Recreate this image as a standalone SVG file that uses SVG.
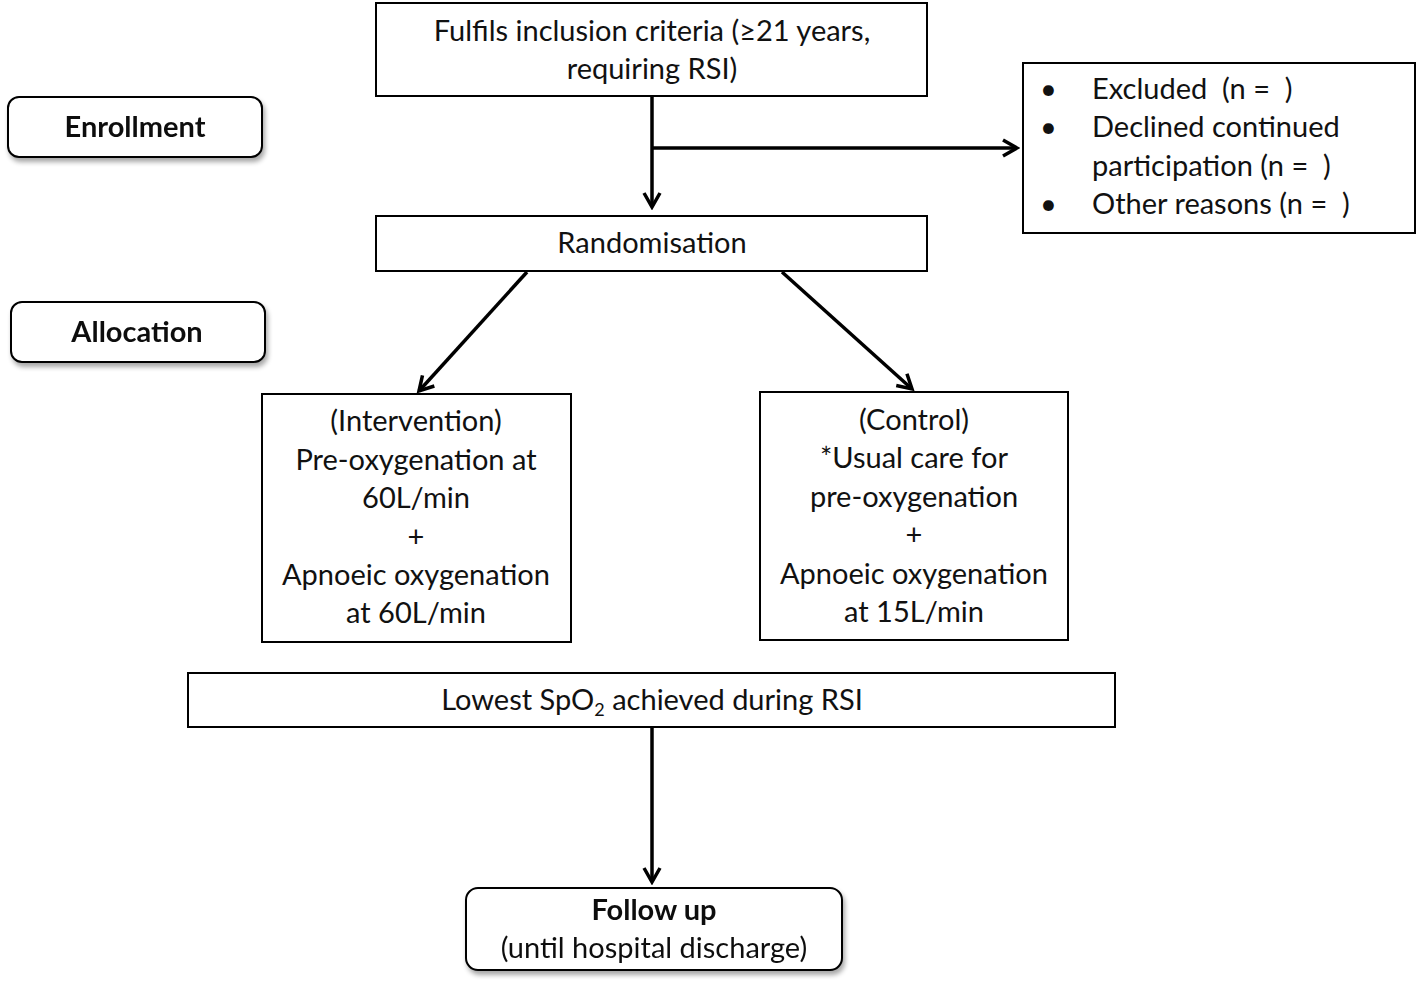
<svg xmlns="http://www.w3.org/2000/svg" width="1418" height="983" viewBox="0 0 1418 983">
<defs>
<style>
.box{fill:#fff;stroke:#000;stroke-width:2}
.rbox{fill:#fff;stroke:#000;stroke-width:2}
.t{font-family:Lato,"Open Sans",sans-serif;font-size:29px;fill:#111;text-anchor:middle}
.tl{font-family:Lato,"Open Sans",sans-serif;font-size:29px;fill:#111;white-space:pre}
.b{font-weight:bold}
.c{fill:none;stroke:#000;stroke-width:3.5}
</style>
<marker id="ah" viewBox="0 0 20 20" refX="17" refY="10" markerWidth="20" markerHeight="20" markerUnits="userSpaceOnUse" orient="auto">
<path d="M3,2 L17,10 L3,18" fill="none" stroke="#000" stroke-width="3.5"/>
</marker>
<filter id="sh" x="-10%" y="-20%" width="125%" height="150%">
<feGaussianBlur in="SourceAlpha" stdDeviation="2.5"/>
<feOffset dx="2" dy="4"/>
<feComponentTransfer><feFuncA type="linear" slope="0.35"/></feComponentTransfer>
<feMerge><feMergeNode/><feMergeNode in="SourceGraphic"/></feMerge>
</filter>
</defs>
<rect width="1418" height="983" fill="#fff"/>

<g id="connectors">
<line class="c" x1="652" y1="96" x2="652" y2="207" marker-end="url(#ah)"/>
<line class="c" x1="652" y1="148" x2="1017" y2="148" marker-end="url(#ah)"/>
<line class="c" x1="527" y1="272" x2="419" y2="391" marker-end="url(#ah)"/>
<line class="c" x1="782" y1="272" x2="912" y2="389" marker-end="url(#ah)"/>
<line class="c" x1="652" y1="727" x2="652" y2="882" marker-end="url(#ah)"/>
</g>

<g id="inclusion">
<rect class="box" x="376" y="3" width="551" height="93"/>
<text class="t" x="652" y="41">Fulfils inclusion criteria (≥21 years,</text>
<text class="t" x="652" y="79">requiring RSI)</text>
</g>

<g id="enrollment" filter="url(#sh)">
<rect class="rbox" x="8" y="97" width="254" height="60" rx="11"/>
<text class="t b" x="135" y="137">Enrollment</text>
</g>

<g id="excluded">
<rect class="box" x="1023" y="63" width="392" height="170"/>
<text class="tl" x="1040" y="99">•</text>
<text class="tl" x="1092" y="99">Excluded  (n =  )</text>
<text class="tl" x="1040" y="137">•</text>
<text class="tl" x="1092" y="137">Declined continued</text>
<text class="tl" x="1092" y="176">participation (n =  )</text>
<text class="tl" x="1040" y="214">•</text>
<text class="tl" x="1092" y="214">Other reasons (n =  )</text>
</g>

<g id="randomisation">
<rect class="box" x="376" y="216" width="551" height="55"/>
<text class="t" x="652" y="253">Randomisation</text>
</g>

<g id="allocation" filter="url(#sh)">
<rect class="rbox" x="11" y="302" width="254" height="60" rx="11"/>
<text class="t b" x="137" y="342">Allocation</text>
</g>

<g id="intervention">
<rect class="box" x="262" y="394" width="309" height="248"/>
<text class="t" x="416" y="431">(Intervention)</text>
<text class="t" x="416" y="470">Pre-oxygenation at</text>
<text class="t" x="416" y="508">60L/min</text>
<text class="t" x="416" y="547">+</text>
<text class="t" x="416" y="585">Apnoeic oxygenation</text>
<text class="t" x="416" y="623">at 60L/min</text>
</g>

<g id="control">
<rect class="box" x="760" y="392" width="308" height="248"/>
<text class="t" x="914" y="430">(Control)</text>
<text class="t" x="914" y="468">*Usual care for</text>
<text class="t" x="914" y="507">pre-oxygenation</text>
<text class="t" x="914" y="545">+</text>
<text class="t" x="914" y="584">Apnoeic oxygenation</text>
<text class="t" x="914" y="622">at 15L/min</text>
</g>

<g id="lowest">
<rect class="box" x="188" y="673" width="927" height="54"/>
<text class="t" x="652" y="710">Lowest SpO<tspan font-size="18" dy="6">2</tspan><tspan dy="-6"> achieved during RSI</tspan></text>
</g>

<g id="followup" filter="url(#sh)">
<rect class="rbox" x="466" y="888" width="376" height="82" rx="12"/>
<text class="t b" x="654" y="920">Follow up</text>
<text class="t" x="654" y="958">(until hospital discharge)</text>
</g>
</svg>
